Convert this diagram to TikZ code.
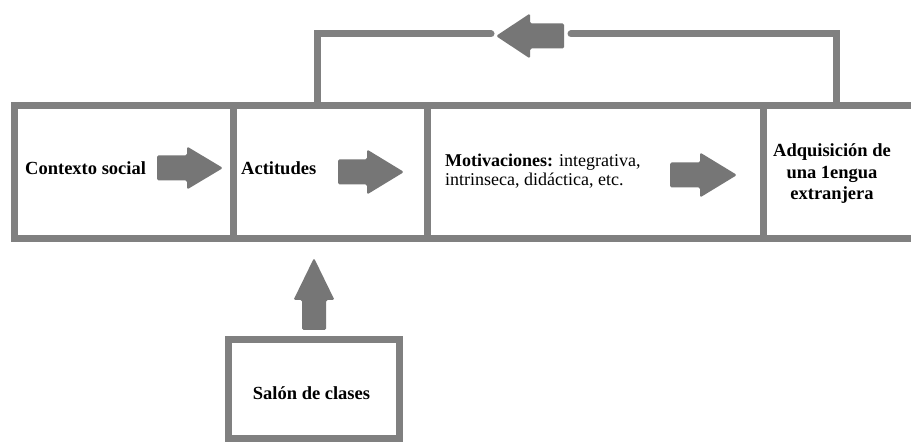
\documentclass[tikz,border=0pt]{standalone}
\usepackage{fontspec}
\setmainfont{Liberation Serif}
\definecolor{framegray}{RGB}{128,128,128}
\definecolor{arrowgray}{RGB}{118,118,118}
\tikzset{
  % block arrow pointing along +x: length, head length, shaft width, head width
  pics/barrow/.style n args={4}{code={
    \fill[arrowgray, rounded corners=1.5pt]
      (-#1/2,-#3/2) -- (#1/2-#2,-#3/2) -- (#1/2-#2,-#4/2) -- (#1/2,0)
      -- (#1/2-#2,#4/2) -- (#1/2-#2,#3/2) -- (-#1/2,#3/2) -- cycle;
  }},
  cell/.style={draw=framegray, line width=7pt, fill=white, inner sep=0pt},
  lbl/.style={inner sep=0pt, font=\fontsize{18.5}{21.5}\selectfont},
  feedback/.style={draw=framegray, line width=7pt, line cap=round, line join=miter},
}
\begin{document}
\begin{tikzpicture}[x=1pt, y=-1pt]
\useasboundingbox (0,0) rectangle (911,443);
\fill[white] (0,0) rectangle (911,443);
\clip (0,0) rectangle (911,443);

% feedback loop above the row
\coordinate (fbR) at (836,34);
\coordinate (fbRgap) at (571,34);
\coordinate (fbLgap) at (491,34);
\coordinate (fbL) at (317,34);
\draw[feedback] (836,106) -- (fbR) -- (fbRgap);
\draw[feedback] (fbLgap) -- (fbL) -- (317,106);
\pic[rotate=180] at (530,36) {barrow={68}{34}{25}{45}};

% row of cells
\node[cell, minimum width=219pt, minimum height=133pt] (ctx) at (123.5,172.5) {};
\node[cell, minimum width=194pt, minimum height=133pt] (act) at (330,172.5) {};
\node[cell, minimum width=336pt, minimum height=133pt] (mot) at (595,172.5) {};
\node[cell, minimum width=162pt, minimum height=133pt] (adq) at (844,172.5) {};

% classroom box
\node[cell, minimum width=171pt, minimum height=99pt] (sal) at (313.5,389.5) {};

% labels
\node[lbl, anchor=west, font=\fontsize{18.5}{21.5}\selectfont\bfseries] (tctx) at (25,168) {Contexto social};
\node[lbl, anchor=west, font=\fontsize{18.5}{21.5}\selectfont\bfseries] (tact) at (241,168.5) {Actitudes};
\node[lbl, anchor=west, align=left, font=\fontsize{18}{18.5}\selectfont] (tmot) at (445,171)
  {\textbf{Motivaciones:} integrativa,\\ intrinseca, didáctica, etc.};
\node[lbl, align=center, font=\fontsize{18.5}{21.5}\selectfont\bfseries] (tadq) at (832,174)
  {Adquisición de\\ una 1engua\\ extranjera};
\node[lbl, font=\fontsize{18.5}{21.5}\selectfont\bfseries] (tsal) at (311.5,393.5) {Salón de clases};

% block arrows between stages
\pic at (190,168) {barrow={66}{36}{25}{43}};
\pic at (371,172) {barrow={66}{37}{25}{45}};
\pic at (703.5,175) {barrow={67}{37}{25}{45}};
\pic[rotate=90] at (314,294) {barrow={72}{42}{24}{41}};
\end{tikzpicture}
\end{document}
